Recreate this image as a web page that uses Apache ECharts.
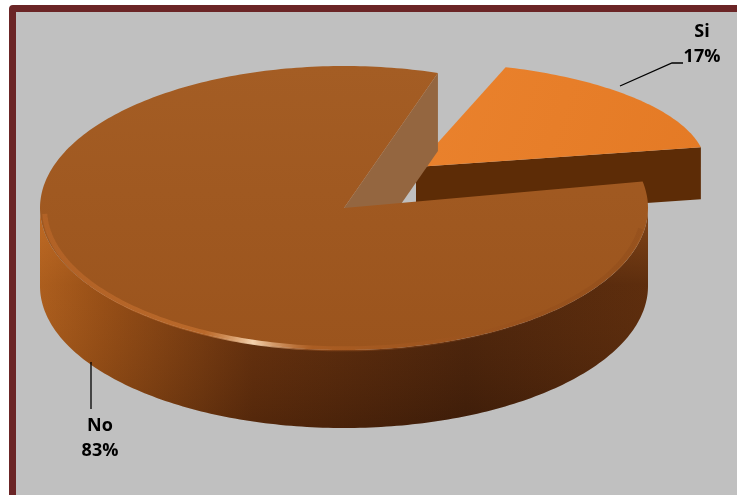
<!DOCTYPE html>
<html>
<head>
<meta charset="utf-8">
<script src="https://cdn.jsdelivr.net/npm/echarts@6/dist/echarts.min.js"></script>
<style>
  html, body { margin: 0; padding: 0; background: #fff; overflow: hidden; }
  #frame {
    position: absolute; left: 9px; top: 5px; width: 800px; height: 497px;
    box-sizing: border-box; border: 7px solid #6b2526; border-radius: 4px;
    background: #c0c0c0;
  }
  #chart { position: absolute; left: 0; top: 0; width: 737px; height: 495px; }
</style>
</head>
<body>
<div id="frame"></div>
<div id="chart"></div>
<script>
"use strict";

// ── 数据 ──
const NAMES = ["Si", "No"];
const VALUES = [17, 83];

// ── 样式 / 布局 (与数据分开) ──
const START_ANGLE = 72;   // 度, 逆时针从 +x; 扇区顺时针排列
// 每个扇区的椭圆几何 (Si 被拉出, 且在后方透视缩小)
const SLICE_GEOM = [
  { cx: 416, cy: 167, rx: 290, ry: 105, h: 52 },
  { cx: 344, cy: 208, rx: 304, ry: 142, h: 78 },
];
const TOP_FILL = [
  { type: "linear", x: 0, y: 0, x2: 1, y2: 1,
    colorStops: [{ offset: 0, color: "#ea822d" }, { offset: 1, color: "#e47a25" }] },
  { type: "linear", x: 0, y: 0, x2: 0, y2: 1,
    colorStops: [{ offset: 0, color: "#a45d24" }, { offset: 1, color: "#9b541d" }] },
];
const CUT_FILL = ["#5d2c06", "#946640"];
const WALL_FILL = { type: "linear", x: 0, y: 0, x2: 1, y2: 0,
  colorStops: [
    { offset: 0, color: "#a85b1c" }, { offset: 0.1, color: "#934c15" },
    { offset: 0.35, color: "#5e2c0c" }, { offset: 0.7, color: "#45200a" },
    { offset: 1, color: "#55280b" }] };
const WALL_SHADE = { type: "linear", x: 0, y: 0, x2: 0, y2: 1,
  colorStops: [
    { offset: 0, color: "rgba(255,150,60,0.28)" }, { offset: 0.35, color: "rgba(255,150,60,0.05)" },
    { offset: 1, color: "rgba(0,0,0,0.12)" }] };
const RIM_STROKE = { type: "linear", x: 0, y: 0, x2: 1, y2: 0,
  colorStops: [
    { offset: 0, color: "rgba(200,110,45,0.45)" }, { offset: 0.27, color: "rgba(215,125,55,0.5)" },
    { offset: 0.35, color: "rgba(255,225,190,0.9)" }, { offset: 0.45, color: "rgba(200,110,45,0.35)" },
    { offset: 1, color: "rgba(110,50,15,0.15)" }] };
const LABEL_LAYOUT = [
  { line: [[620, 86], [672, 63], [683, 63]], at: [702, 44] },
  { line: [[91, 362], [91, 409]], at: [100, 438] },
];

const TOTAL = VALUES.reduce((a, b) => a + b, 0);

function pt(g, deg, z, k) {
  const t = deg * Math.PI / 180, s = k == null ? 1 : k;
  return [g.cx + g.rx * s * Math.cos(t), g.cy - g.ry * s * Math.sin(t) + (z || 0)];
}

function arc(g, a0, a1, z, k) {
  const pts = [], n = Math.max(2, Math.ceil(Math.abs(a1 - a0)));
  for (let i = 0; i <= n; i++) pts.push(pt(g, a0 + (a1 - a0) * i / n, z, k));
  return pts;
}

// 切面 (径向竖墙)
function cutFace(g, deg, fill) {
  const c = [g.cx, g.cy], e = pt(g, deg);
  return { type: "polygon", silent: true,
    shape: { points: [c, e, [e[0], e[1] + g.h], [c[0], c[1] + g.h]] },
    style: { fill: fill } };
}

function renderItem(params) {
  const i = params.dataIndex, g = SLICE_GEOM[i];
  let before = 0;
  for (let j = 0; j < i; j++) before += VALUES[j];
  const hi = START_ANGLE - before / TOTAL * 360;
  const lo = hi - VALUES[i] / TOTAL * 360;
  const children = [];

  // 可见切面: 下边界 cos>0, 上边界 cos<0
  if (Math.cos(lo * Math.PI / 180) > 0) children.push(cutFace(g, lo, CUT_FILL[i]));
  if (Math.cos(hi * Math.PI / 180) < 0) children.push(cutFace(g, hi, CUT_FILL[i]));

  // 前侧外墙 (sin<0 的区间)
  for (let k = -2; k <= 1; k++) {
    const a = Math.max(lo, -180 + k * 360), b = Math.min(hi, k * 360);
    if (b - a <= 0.5) continue;
    const top = arc(g, a, b, 0), bot = arc(g, b, a, g.h);
    const poly = top.concat(bot);
    children.push({ type: "polygon", silent: true, shape: { points: poly }, style: { fill: WALL_FILL } });
    children.push({ type: "polygon", silent: true, shape: { points: poly }, style: { fill: WALL_SHADE } });
  }

  // 顶面
  children.push({ type: "polygon", silent: true,
    shape: { points: [[g.cx, g.cy]].concat(arc(g, lo, hi, 0)) },
    style: { fill: TOP_FILL[i] } });

  // 前沿高光 (倒角)
  const ra = Math.max(lo, -178), rb = Math.min(hi, -8);
  if (rb > ra) {
    children.push({ type: "polyline", silent: true,
      shape: { points: arc(g, ra, rb, 1, 0.985) },
      style: { stroke: RIM_STROKE, lineWidth: 5, fill: null } });
  }

  // 标签 + 引线
  const L = LABEL_LAYOUT[i];
  children.push({ type: "polyline", silent: true, z2: 10,
    shape: { points: L.line }, style: { stroke: "#000", lineWidth: 1.3, fill: null } });
  children.push({ type: "text", silent: true, z2: 10, x: L.at[0], y: L.at[1],
    style: { text: NAMES[i] + "\n" + Math.round(VALUES[i] / TOTAL * 100) + "%",
      font: "bold 18px 'Open Sans', sans-serif", lineHeight: 25,
      fill: "#000", align: "center", verticalAlign: "middle" } });

  return { type: "group", children: children };
}

const chart = echarts.init(document.getElementById("chart"), null, { renderer: "canvas" });
chart.setOption({
  animation: false,
  backgroundColor: "transparent",
  series: [{
    type: "custom",
    coordinateSystem: "none",
    silent: true,
    renderItem: renderItem,
    data: NAMES.map((n, i) => ({ name: n, value: VALUES[i] })),
  }],
});
</script>
</body>
</html>
